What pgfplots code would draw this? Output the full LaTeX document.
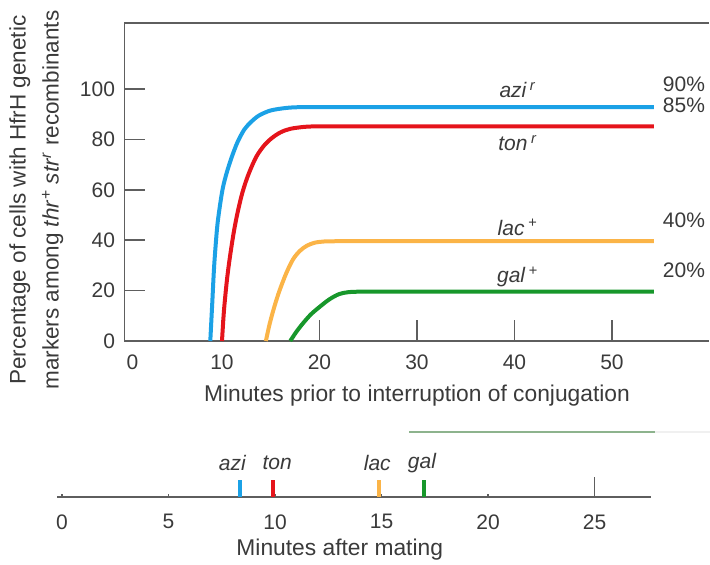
\documentclass[border=0pt]{standalone}
\usepackage{pgfplots}
\pgfplotsset{compat=1.18}
\usepackage{fontspec}
\setmainfont{Liberation Sans}
\definecolor{cblue}{HTML}{1BA1E6}
\definecolor{cred}{HTML}{E5141B}
\definecolor{corange}{HTML}{FBB447}
\definecolor{cgreen}{HTML}{17972B}
\definecolor{spine}{HTML}{5E5E5E}
\definecolor{txt}{HTML}{3A3A3A}
\definecolor{artgreen}{HTML}{8DB38D}
\begin{document}
\begin{tikzpicture}
\useasboundingbox (0,0) rectangle (710pt,-565pt);
\begin{axis}[
  at={(124.5pt,-341pt)}, anchor=south west,
  scale only axis, width=585pt, height=318pt,
  xmin=0, xmax=60, ymin=0, ymax=126.2,
  axis lines=left, axis line style={-, spine, line width=1.6pt},
  xtick={0,10,...,50}, ytick={0,20,...,100},
  xticklabels={\hspace{16pt}0,10,20,30,40,50},
  tick align=inside, major tick length=21pt,
  tick style={spine, line width=1.5pt},
  /pgf/number format/assume math mode=true,
  every tick label/.append style={font=\fontsize{21}{25}\selectfont, text=txt},
  xticklabel style={yshift=-10pt},
  yticklabel style={xshift=-6pt},
  clip=false,
  xlabel={Minutes prior to interruption of conjugation},
  xlabel style={at={(axis description cs:0.5,0)}, anchor=center, yshift=-55pt, font=\fontsize{22.8}{26}\selectfont, text=txt},
  ylabel={Percentage of cells with HfrH genetic\\markers among \textit{thr}\textsuperscript{+} \textit{str}\textsuperscript{\textit{r}} recombinants},
  ylabel style={at={(axis description cs:-0.1506,0.443)}, rotate=0, anchor=center, align=center, font=\fontsize{22.5}{33}\selectfont, text=txt},
]
\draw[spine, line width=1.6pt] (rel axis cs:0,1) -- (rel axis cs:1,1);
\addplot[cblue, line width=4pt, smooth, tension=0.5] coordinates {
(8.8,0) (9.0,15) (9.2,30) (9.5,45) (9.8,54) (10.1,61) (10.5,67) (11.0,73) (11.6,79) (12.3,84) (13.0,87) (13.8,89.5) (15.0,91.5) (16.6,92.5) (18,92.8) (20,92.8) (23,92.8) (27,92.8) (33,92.8) (42,92.8) (54.3,92.8)};
\addplot[cred, line width=4pt, smooth, tension=0.5] coordinates {
(10.0,0) (10.2,12) (10.5,24) (10.8,33) (11.2,43) (11.6,51) (12.1,59) (12.7,66) (13.5,73) (14.3,77.5) (15.1,80.5) (16.0,82.8) (17.0,84.2) (18.5,85) (20,85.2) (22,85.2) (25,85.2) (29,85.2) (35,85.2) (44,85.2) (54.3,85.2)};
\addplot[corange, line width=4pt, smooth, tension=0.5] coordinates {
(14.5,0) (14.9,7) (15.4,14) (15.9,20) (16.6,27) (17.3,32.5) (18.0,35.8) (18.7,37.8) (19.5,39) (20.5,39.5) (22,39.6) (24,39.6) (27,39.6) (32,39.6) (40,39.6) (54.3,39.6)};
\addplot[cgreen, line width=4pt, smooth, tension=0.5] coordinates {
(17.0,0) (17.6,3.5) (18.3,7) (19.1,10.5) (20.0,13.5) (21.0,16.5) (22.0,18.6) (23.0,19.4) (24.5,19.6) (26,19.6) (28.5,19.6) (32,19.6) (38,19.6) (46,19.6) (54.3,19.6)};
\begin{scope}[every node/.style={font=\fontsize{21}{25}\selectfont\itshape, text=txt}]
\node at (axis cs:40.3,99.6) {azi\,\textsuperscript{r}};
\node at (axis cs:40.3,78.6) {ton\,\textsuperscript{r}};
\node at (axis cs:40.3,45.2) {lac\,\textsuperscript{+}};
\node at (axis cs:40.3,25.4) {gal\,\textsuperscript{+}};
\end{scope}
\begin{scope}[every node/.style={font=\fontsize{21}{25}\selectfont, text=txt, anchor=west, inner sep=0pt}]
\node at (axis cs:55.2,102) {90\%};
\node at (axis cs:55.2,93.4) {85\%};
\node at (axis cs:55.2,48) {40\%};
\node at (axis cs:55.2,28) {20\%};
\end{scope}
\end{axis}
\begin{axis}[
  at={(57pt,-497pt)}, anchor=south west,
  scale only axis, width=594pt, height=40pt,
  xmin=-0.235, xmax=27.65, ymin=0, ymax=40,
  axis x line=bottom, axis y line=none,
  axis line style={-, spine, line width=1.6pt},
  xtick={0,5,...,25}, ytick=\empty,
  tick align=inside, major tick length=3pt,
  tick style={spine, line width=1.2pt},
  extra x ticks={25}, extra x tick labels={},
  extra x tick style={major tick length=20pt},
  /pgf/number format/assume math mode=true,
  every tick label/.append style={font=\fontsize{21}{25}\selectfont, text=txt},
  xticklabel style={yshift=-14pt},
  clip=false,
  xlabel={Minutes after mating},
  xlabel style={at={(axis description cs:0.476,0)}, anchor=center, yshift=-53pt, font=\fontsize{22.8}{26}\selectfont, text=txt},
]
\addplot[artgreen, line width=1.8pt] coordinates {(16.3,65) (27.84,65)};
\addplot[black!6, line width=1.8pt] coordinates {(27.84,65) (30.5,65)};
\addplot[ycomb, cblue, line width=4pt] coordinates {(8.35,17)};
\addplot[ycomb, cred, line width=4pt] coordinates {(9.9,17)};
\addplot[ycomb, corange, line width=4pt] coordinates {(14.9,17)};
\addplot[ycomb, cgreen, line width=4pt] coordinates {(17.0,17)};
\begin{scope}[every node/.style={font=\fontsize{21}{25}\selectfont\itshape, text=txt}]
\node at (axis cs:8.0,34) {azi};
\node at (axis cs:10.1,34) {ton};
\node at (axis cs:14.8,34) {lac};
\node at (axis cs:16.9,34) {gal};
\end{scope}
\end{axis}
\end{tikzpicture}
\end{document}
